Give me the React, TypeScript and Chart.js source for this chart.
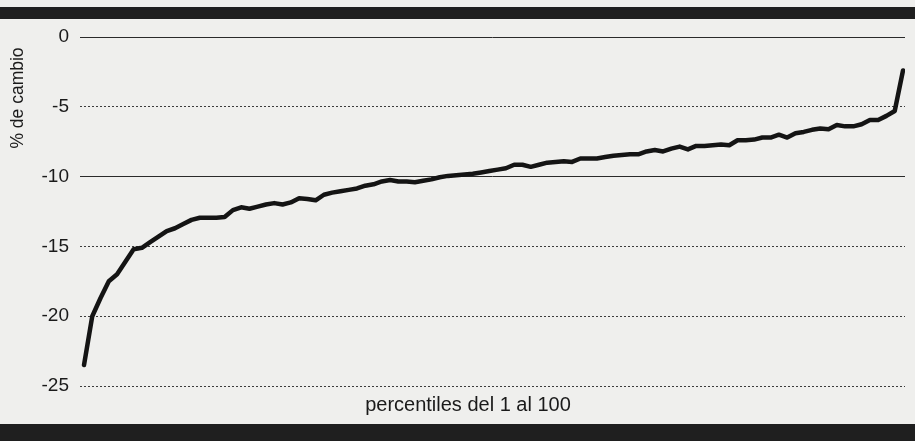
import { useEffect, useRef } from "react";
import { Chart, registerables } from "chart.js";

Chart.register(...registerables);

// Percentile categories (x) and % change per percentile (y)
const percentiles: number[] = Array.from({ length: 100 }, (_, i) => i + 1);
const cambio: number[] = [
  -23.5, -20.0, -18.7, -17.5, -17.0, -16.1, -15.2, -15.1, -14.7, -14.3,
  -13.9, -13.7, -13.4, -13.1, -12.95, -12.95, -12.95, -12.9, -12.4, -12.2,
  -12.3, -12.15, -12.0, -11.9, -12.0, -11.85, -11.55, -11.6, -11.7, -11.3,
  -11.15, -11.05, -10.95, -10.85, -10.65, -10.55, -10.35, -10.25, -10.35, -10.35,
  -10.4, -10.3, -10.2, -10.05, -9.95, -9.9, -9.85, -9.8, -9.7, -9.6,
  -9.5, -9.4, -9.15, -9.15, -9.3, -9.15, -9.0, -8.95, -8.9, -8.95,
  -8.7, -8.7, -8.7, -8.6, -8.5, -8.45, -8.4, -8.4, -8.2, -8.1,
  -8.2, -8.0, -7.85, -8.05, -7.8, -7.8, -7.75, -7.7, -7.75, -7.4,
  -7.4, -7.35, -7.2, -7.2, -7.0, -7.2, -6.9, -6.8, -6.65, -6.55,
  -6.6, -6.3, -6.4, -6.4, -6.25, -5.95, -5.95, -5.65, -5.3, -2.4,
];
const yTickValues: number[] = [0, -5, -10, -15, -20, -25];
const solidGridValues: number[] = [0, -10];
const yAxisTitle = "% de cambio";
const xAxisTitle = "percentiles del 1 al 100";

const FONT = '"Liberation Sans", Arial, Helvetica, sans-serif';

const paperPlugin = {
  id: "paper",
  beforeDraw(chart: any) {
    const { ctx, width, height } = chart;
    ctx.save();
    ctx.fillStyle = "#efefed";
    ctx.fillRect(0, 0, width, height);
    ctx.fillStyle = "#1f1f1f";
    ctx.fillRect(0, 7, width, 12);
    ctx.fillRect(0, height - 17, width, 17);
    ctx.restore();
  },
  afterDraw(chart: any) {
    const { ctx } = chart;
    ctx.save();
    ctx.fillStyle = "#1a1a1a";
    ctx.font = `17.5px ${FONT}`;
    ctx.textAlign = "center";
    ctx.textBaseline = "middle";
    ctx.translate(18, 98);
    ctx.rotate(-Math.PI / 2);
    ctx.fillText(yAxisTitle, 0, 0);
    ctx.restore();

    ctx.save();
    ctx.fillStyle = "#1a1a1a";
    ctx.font = `20px ${FONT}`;
    ctx.textAlign = "center";
    ctx.textBaseline = "alphabetic";
    ctx.fillText(xAxisTitle, 468, 411);
    ctx.restore();
  },
};

export default function App() {
  const canvasRef = useRef<HTMLCanvasElement | null>(null);

  useEffect(() => {
    document.body.style.margin = "0";
    const canvas = canvasRef.current;
    if (!canvas) return;
    const chart = new Chart(canvas, {
      type: "line",
      data: {
        datasets: [
          {
            label: yAxisTitle,
            data: percentiles.map((p, i) => ({ x: p, y: cambio[i] })),
            borderColor: "#141414",
            borderWidth: 4.5,
            pointRadius: 0,
            tension: 0,
            borderJoinStyle: "round",
            borderCapStyle: "round",
            fill: false,
          },
        ],
      },
      options: {
        animation: false,
        responsive: true,
        maintainAspectRatio: false,
        events: [],
        layout: { padding: { top: 37, bottom: 55, left: 0, right: 10 } },
        plugins: {
          legend: { display: false },
          tooltip: { enabled: false },
          title: { display: false },
        },
        scales: {
          x: {
            type: "linear",
            min: 0.5165,
            max: 100.2418,
            display: false,
          },
          y: {
            type: "linear",
            min: -25,
            max: 0,
            afterFit: (scale: any) => {
              scale.width = 80;
            },
            afterBuildTicks: (scale: any) => {
              scale.ticks = yTickValues.map((v) => ({ value: v }));
            },
            ticks: {
              padding: 11,
              color: "#1a1a1a",
              font: { family: FONT, size: 19 },
            },
            grid: {
              drawTicks: false,
              lineWidth: 1,
              color: (ctx: any) =>
                ctx.tick && solidGridValues.includes(ctx.tick.value) ? "#2a2a2a" : "#3c3c3c",
            },
            border: {
              display: false,
              dash: (ctx: any) =>
                ctx.tick && solidGridValues.includes(ctx.tick.value) ? [] : [2, 2],
            },
          },
        },
      },
      plugins: [paperPlugin],
    });
    return () => chart.destroy();
  }, []);

  return (
    <div style={{ position: "absolute", left: 0, top: 0, width: 915, height: 441 }}>
      <canvas ref={canvasRef} />
    </div>
  );
}
